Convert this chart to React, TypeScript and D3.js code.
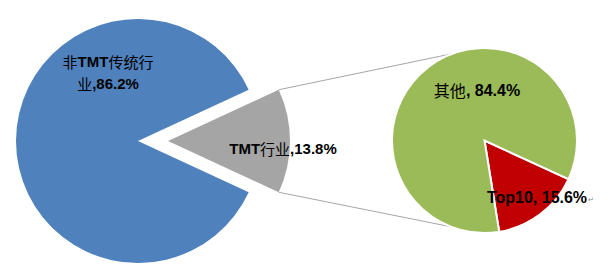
import React from "react";
import * as d3 from "d3";

const mainCategories = ["非TMT传统行业", "TMT行业"];
const mainValues = [86.2, 13.8];
const mainLabels = [["非TMT传统行", "业,86.2%"], ["TMT行业,13.8%"]];
const subCategories = ["Top10", "其他"];
const subValues = [15.6, 84.4];
const subLabels = ["Top10, 15.6%", "其他, 84.4%"];

const W = 610;
const H = 272;
const mainColors = ["#4F81BD", "#A5A5A5"];
const subColors = ["#C00000", "#9BBB59"];

const LATIN = "'Liberation Sans', Arial, sans-serif";
const CJK = "'Noto Sans CJK SC', sans-serif";

function runs(s: string) {
  const out: { t: string; cjk: boolean }[] = [];
  for (const ch of s) {
    const cjk = /[\u4e00-\u9fff]/.test(ch);
    const last = out[out.length - 1];
    if (last && last.cjk === cjk) last.t += ch;
    else out.push({ t: ch, cjk });
  }
  return out;
}

function Label({ x, y, text, size = 15 }: { x: number; y: number; text: string; size?: number }) {
  return (
    <text x={x} y={y} textAnchor="middle" dominantBaseline="central" fontSize={size} fill="#000">
      {runs(text).map((r, i) => (
        <tspan key={i} fontFamily={r.cjk ? CJK : LATIN} fontWeight={r.cjk ? 400 : 700}>
          {r.t}
        </tspan>
      ))}
    </text>
  );
}

export default function App() {
  const cx = 138, cy = 141, r = 122;
  const explode = 30;
  const total = d3.sum(mainValues);
  const grayAng = (mainValues[1] / total) * 2 * Math.PI;
  const pie = d3
    .pie<number>()
    .sort(null)
    .startAngle(Math.PI / 2 + grayAng / 2)
    .endAngle(Math.PI / 2 + grayAng / 2 + 2 * Math.PI);
  const arcs = pie(mainValues);
  const arc = d3.arc<d3.PieArcDatum<number>>().innerRadius(0).outerRadius(r);

  const grayArc = arcs[1];
  const gMid = (grayArc.startAngle + grayArc.endAngle) / 2;
  const gx = cx + explode * Math.sin(gMid);
  const gy = cy - explode * Math.cos(gMid);

  const sx = 484.5, sy = 140.5, sr = 92.5;
  const subStart = (114.7 * Math.PI) / 180;
  const subPie = d3.pie<number>().sort(null).startAngle(subStart).endAngle(subStart + 2 * Math.PI);
  const subArcs = subPie(subValues);
  const subArc = d3.arc<d3.PieArcDatum<number>>().innerRadius(0).outerRadius(sr);

  const pt = (x: number, y: number, rad: number, a: number) => [x + rad * Math.sin(a), y - rad * Math.cos(a)];
  const g1 = pt(gx, gy, r, grayArc.startAngle);
  const g2 = pt(gx, gy, r, grayArc.endAngle);
  const s1 = pt(sx, sy, sr, (-20 * Math.PI) / 180);
  const s2 = pt(sx, sy, sr, (201 * Math.PI) / 180);

  return (
    <svg width={W} height={H} style={{ position: "absolute", left: 0, top: 0, background: "#fff" }}>
      <path d={arc(arcs[0]) || ""} transform={`translate(${cx},${cy})`} fill={mainColors[0]} />
      <path d={arc(grayArc) || ""} transform={`translate(${gx},${gy})`} fill={mainColors[1]} />
      <line x1={g1[0]} y1={g1[1]} x2={s1[0]} y2={s1[1]} stroke="#A6A6A6" strokeWidth={1} />
      <line x1={g2[0]} y1={g2[1]} x2={s2[0]} y2={s2[1]} stroke="#A6A6A6" strokeWidth={1} />
      {subArcs.map((a, i) => (
        <path
          key={subCategories[i]}
          d={subArc(a) || ""}
          transform={`translate(${sx},${sy})`}
          fill={subColors[i]}
          stroke="#fff"
          strokeWidth={2}
        />
      ))}
      <Label x={108} y={61} text={mainLabels[0][0]} />
      <Label x={108} y={83} text={mainLabels[0][1]} />
      <Label x={283} y={148} text={mainLabels[1][0]} />
      <Label x={477} y={90} text={subLabels[1]} size={16} />
      <Label x={537} y={197} text={subLabels[0]} size={16} />
      <text x={588} y={199} fontSize={7} fill="#888" dominantBaseline="central" fontFamily={LATIN}>↵</text>
    </svg>
  );
}
